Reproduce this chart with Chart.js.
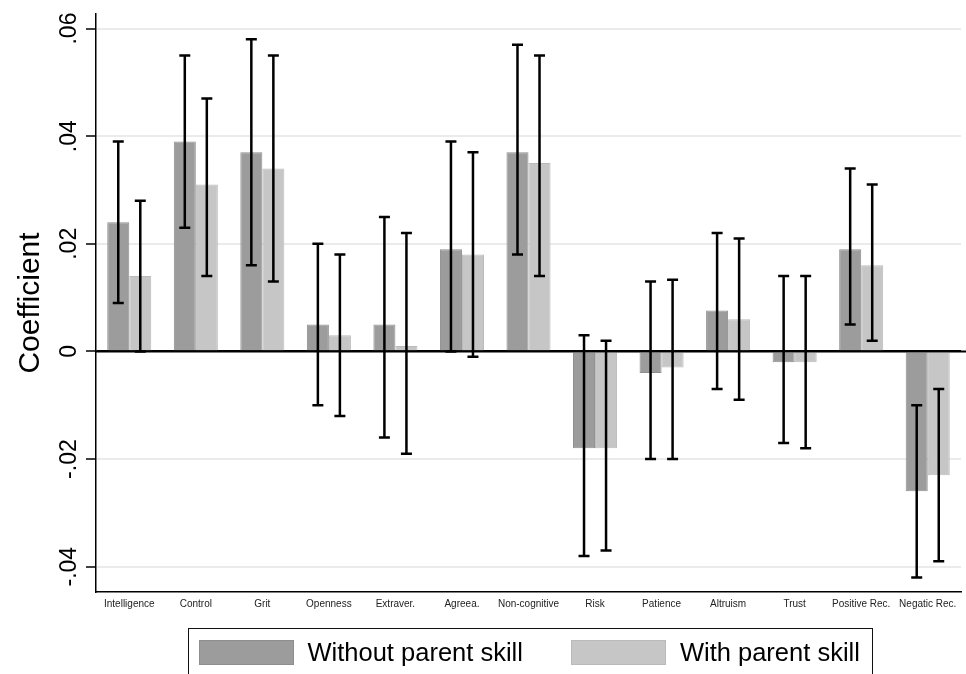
<!DOCTYPE html>
<html>
<head>
<meta charset="utf-8">
<title>Coefficient by skill</title>
<script src="https://cdn.jsdelivr.net/npm/chart.js@4.4.1/dist/chart.umd.min.js"></script>
<style>
    html, body { margin: 0; padding: 0; background: #fff; overflow: hidden; }
    #wrap { position: relative; width: 966px; height: 674px; overflow: hidden; }
    #legend {
        position: absolute; left: 188px; top: 628px; width: 685px; height: 70px;
        box-sizing: border-box; border: 1.5px solid #111;
        padding: 11px 0 0 9.5px; display: flex; align-items: flex-start;
        font-family: "Liberation Sans", Arial, sans-serif; font-size: 25.5px; color: #000;
    }
    .item { display: flex; align-items: center; height: 25px; margin-right: 48px; white-space: nowrap; }
    .swatch { width: 95px; height: 25px; box-sizing: border-box; margin-right: 14px; }
</style>
</head>
<body>
<div id="wrap">
    <canvas id="coefChart" width="966" height="674"></canvas>
    <div id="legend"></div>
</div>
<script>
const categories = ['Intelligence', 'Control', 'Grit', 'Openness', 'Extraver.', 'Agreea.', 'Non-cognitive',
    'Risk', 'Patience', 'Altruism', 'Trust', 'Positive Rec.', 'Negatic Rec.'];

// point estimates and 95% bounds
const withoutParent = [0.024, 0.039, 0.037, 0.005, 0.005, 0.019, 0.037, -0.018, -0.004, 0.0076, -0.002, 0.019, -0.026];
const withoutLow = [0.009, 0.023, 0.016, -0.010, -0.016, 0.000, 0.018, -0.038, -0.020, -0.007, -0.017, 0.005, -0.042];
const withoutHigh = [0.039, 0.055, 0.058, 0.020, 0.025, 0.039, 0.057, 0.003, 0.013, 0.022, 0.014, 0.034, -0.010];

const withParent = [0.014, 0.031, 0.034, 0.003, 0.001, 0.018, 0.035, -0.018, -0.003, 0.006, -0.002, 0.016, -0.023];
const withLow = [0.000, 0.014, 0.013, -0.012, -0.019, -0.001, 0.014, -0.037, -0.020, -0.009, -0.018, 0.002, -0.039];
const withHigh = [0.028, 0.047, 0.055, 0.018, 0.022, 0.037, 0.055, 0.002, 0.0133, 0.021, 0.014, 0.031, -0.007];

const tickValues = [-0.04, -0.02, 0, 0.02, 0.04, 0.06];
const tickLabels = ['-.04', '-.02', '0', '.02', '.04', '.06'];

Chart.defaults.font.family = '"Liberation Sans", Arial, sans-serif';
Chart.defaults.color = '#000';

// error bars + zero line on top of the bars
const errorBars = {
    id: 'errorBars',
    afterDatasetsDraw(chart) {
        const ctx = chart.ctx;
        const y = chart.scales.y;
        const area = chart.chartArea;
        ctx.save();
        ctx.strokeStyle = '#000';

        ctx.lineWidth = 2;
        const zero = y.getPixelForValue(0);
        ctx.beginPath();
        ctx.moveTo(area.left, zero);
        ctx.lineTo(chart.width, zero);
        ctx.stroke();

        ctx.lineWidth = 2.5;
        chart.data.datasets.forEach((ds, i) => {
            chart.getDatasetMeta(i).data.forEach((bar, j) => {
                const top = y.getPixelForValue(ds.high[j]);
                const bottom = y.getPixelForValue(ds.low[j]);
                ctx.beginPath();
                ctx.moveTo(bar.x, top);
                ctx.lineTo(bar.x, bottom);
                ctx.moveTo(bar.x - 5.5, top);
                ctx.lineTo(bar.x + 5.5, top);
                ctx.moveTo(bar.x - 5.5, bottom);
                ctx.lineTo(bar.x + 5.5, bottom);
                ctx.stroke();
            });
        });
        ctx.restore();
    }
};

const chart = new Chart(document.getElementById('coefChart'), {
    type: 'bar',
    data: {
        labels: categories,
        datasets: [{
            label: 'Without parent skill',
            data: withoutParent,
            low: withoutLow,
            high: withoutHigh,
            backgroundColor: '#9c9c9c',
            borderColor: '#8e8e8e',
            borderWidth: 1
        }, {
            label: 'With parent skill',
            data: withParent,
            low: withLow,
            high: withHigh,
            backgroundColor: '#c6c6c6',
            borderColor: '#bababa',
            borderWidth: 1
        }]
    },
    options: {
        responsive: false,
        animation: false,
        devicePixelRatio: 1,
        layout: { padding: { top: 14, right: 5, bottom: 58, left: 0 } },
        datasets: {
            bar: { categoryPercentage: 0.662, barPercentage: 1.0 }
        },
        plugins: {
            legend: { display: false },
            tooltip: { enabled: false }
        },
        scales: {
            x: {
                grid: { display: false, drawTicks: false },
                border: { display: true, color: '#000', width: 1.5 },
                ticks: {
                    autoSkip: false, maxRotation: 0, padding: 6,
                    font: { size: 10 }, color: '#222'
                }
            },
            y: {
                min: -0.0447,
                max: 0.0627,
                afterBuildTicks: (scale) => {
                    scale.ticks = tickValues.map(v => ({ value: v }));
                },
                afterFit: (scale) => {
                    scale.width = 96;
                },
                grid: {
                    color: (c) => c.tick && c.tick.value === 0 ? '#000' : '#ebebeb',
                    lineWidth: 2,
                    tickColor: '#000',
                    tickWidth: 1.5,
                    tickLength: 10
                },
                border: { display: true, color: '#000', width: 1.5 },
                ticks: {
                    minRotation: 90, maxRotation: 90,
                    crossAlign: 'center', padding: -3,
                    font: { size: 23 }, color: '#000',
                    callback: (value) => {
                        const k = tickValues.findIndex(v => Math.abs(v - value) < 1e-9);
                        return k >= 0 ? tickLabels[k] : '';
                    }
                },
                title: {
                    display: true, text: 'Coefficient',
                    font: { size: 30 }, color: '#000',
                    padding: { top: 13, bottom: 0 }
                }
            }
        }
    },
    plugins: [errorBars]
});

// legend built from the datasets
const legendBox = document.getElementById('legend');
chart.data.datasets.forEach(ds => {
    const item = document.createElement('div');
    item.className = 'item';
    const sw = document.createElement('span');
    sw.className = 'swatch';
    sw.style.background = ds.backgroundColor;
    sw.style.border = '1px solid ' + ds.borderColor;
    const txt = document.createElement('span');
    txt.textContent = ds.label;
    item.appendChild(sw);
    item.appendChild(txt);
    legendBox.appendChild(item);
});
</script>
</body>
</html>
